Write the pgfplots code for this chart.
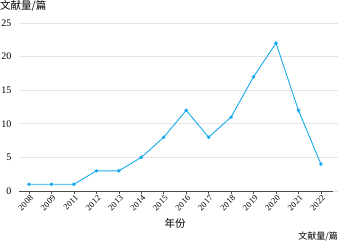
\documentclass[border=0pt]{standalone}
\usepackage{pgfplots}
\pgfplotsset{compat=1.18}
\usepackage{fontspec}
\setmainfont{Liberation Serif}
\newfontfamily\cjk{Noto Sans CJK SC}
\definecolor{linec}{RGB}{20,170,235}
\definecolor{gridc}{RGB}{228,228,228}
\begin{document}
\begin{tikzpicture}[x=1pt,y=1pt]
\useasboundingbox (-19,-52) rectangle (321,191);
\begin{axis}[
  scale only axis, width=319pt, height=168pt,
  at={(0,0)}, anchor=south west,
  xmin=-0.445, xmax=13.76, ymin=0, ymax=25,
  axis x line*=bottom, axis y line*=left,
  y axis line style={draw=none},
  x axis line style={draw=black!70, line width=0.5pt, -, shorten >=5pt},
  xtick={0,...,13},
  xticklabels={2008,2009,2011,2012,2013,2014,2015,2016,2017,2018,2019,2020,2021,2022},
  x tick label style={rotate=45, anchor=north east, font=\fontsize{8.5}{9}\selectfont, inner sep=1pt, xshift=1pt},
  xtick style={draw=black!70, line width=0.5pt},
  tick align=outside, major tick length=3pt,
  ytick={0,5,...,25}, ymajorgrids,
  grid style={draw=gridc, line width=0.6pt},
  y tick label style={font=\fontsize{10}{10}\selectfont, xshift=-1pt},
  ytick style={draw=none},
  /pgf/number format/assume math mode=true,
  clip=false,
]
\addplot[color=linec, line width=0.9pt, mark=*, mark size=1.3pt, mark options={fill=linec, draw=linec}]
  coordinates {(0,1)(1,1)(2,1)(3,3)(4,3)(5,5)(6,8)(7,12)(8,8)(9,11)(10,17)(11,22)(12,12)(13,4)};
\end{axis}
\node[anchor=north west, inner sep=0pt, font=\cjk\fontsize{10.5}{11}\selectfont] at (-19,191) {文献量/篇};
\node[anchor=center, inner sep=0pt, font=\cjk\fontsize{10.5}{11}\selectfont] at (156,-32) {年份};
\node[anchor=south east, inner sep=0pt, font=\cjk\fontsize{9}{10}\selectfont] at (319,-50) {文献量/篇};
\end{tikzpicture}
\end{document}
